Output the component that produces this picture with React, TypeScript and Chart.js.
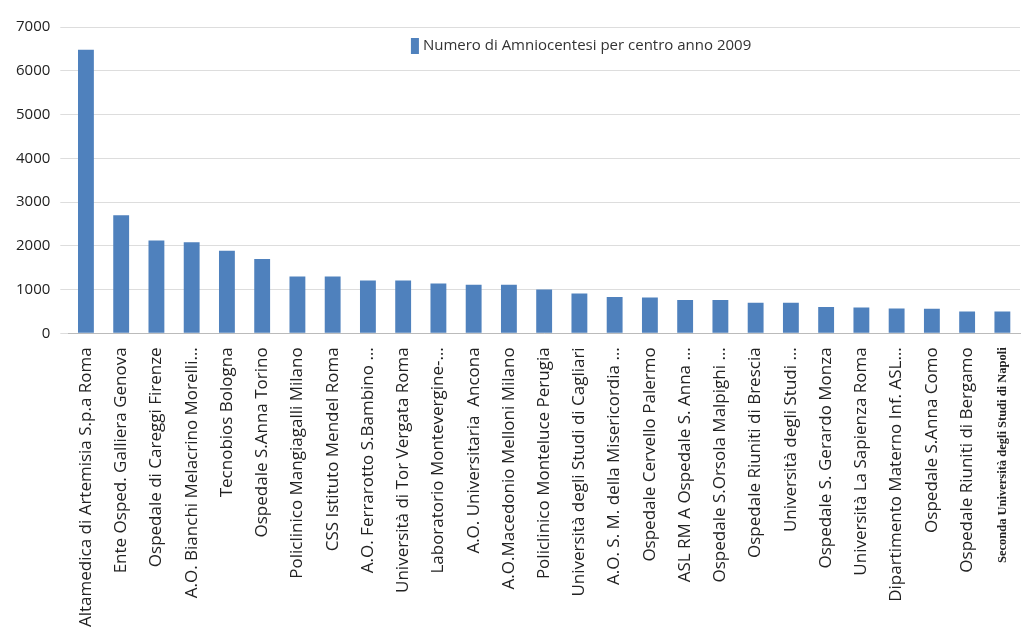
import React, { useEffect, useRef } from 'react';
import { Chart, registerables } from 'chart.js';
Chart.register(...registerables);

const centers = [
	'Altamedica di Artemisia S.p.a Roma',
	'Ente Osped. Galliera Genova',
	'Ospedale di Careggi Firenze',
	'A.O. Bianchi Melacrino Morelli…',
	'Tecnobios Bologna',
	'Ospedale S.Anna Torino',
	'Policlinico Mangiagalli Milano',
	'CSS Istituto Mendel Roma',
	'A.O. Ferrarotto S.Bambino …',
	'Università di Tor Vergata Roma',
	'Laboratorio Montevergine-…',
	'A.O. Universitaria  Ancona',
	'A.O.Macedonio Melloni Milano',
	'Policlinico Monteluce Perugia',
	'Università degli Studi di Cagliari',
	'A.O. S. M. della Misericordia …',
	'Ospedale Cervello Palermo',
	'ASL RM A Ospedale S. Anna …',
	'Ospedale S.Orsola Malpighi …',
	'Ospedale Riuniti di Brescia',
	'Università degli Studi …',
	'Ospedale S. Gerardo Monza',
	'Università La Sapienza Roma',
	'Dipartimento Materno Inf. ASL…',
	'Ospedale S.Anna Como',
	'Ospedale Riuniti di Bergamo',
	'Seconda Università degli Studi di Napoli',
];
const amniocentesi = [
	6480, 2700, 2120, 2080, 1890, 1700, 1300, 1300, 1210, 1210, 1140, 1110, 1110, 1000, 910, 830,
	820, 760, 760, 700, 700, 600, 590, 570, 560, 500, 500,
];
const seriesLabel = 'Numero di Amniocentesi per centro anno 2009';
const barColor = 'rgb(79, 129, 189)';

const insideLegend = {
	id: 'insideLegend',
	afterDraw(chart: Chart) {
		const { ctx, chartArea } = chart;
		const x = chartArea.left + (chartArea.right - chartArea.left) * 0.36;
		const y = chartArea.top + 19;
		ctx.save();
		ctx.fillStyle = barColor;
		ctx.fillRect(x, y - 8, 8, 16);
		ctx.fillStyle = '#333';
		ctx.font = '15px "Open Sans"';
		ctx.textBaseline = 'middle';
		ctx.fillText(seriesLabel, x + 12, y);
		ctx.restore();
	},
};

const App = () => {
	const ref = useRef<HTMLCanvasElement>(null);

	useEffect(() => {
		document.body.style.margin = '0';
		const chart = new Chart(ref.current!, {
			type: 'bar',
			data: {
				labels: centers,
				datasets: [
					{
						label: seriesLabel,
						data: amniocentesi,
						backgroundColor: barColor,
						categoryPercentage: 0.9,
						barPercentage: 0.5,
					},
				],
			},
			plugins: [insideLegend],
			options: {
				animation: false,
				responsive: false,
				layout: { padding: { top: 27, right: 4, left: 6, bottom: 8 } },
				plugins: {
					legend: { display: false },
					tooltip: { enabled: false },
				},
				scales: {
					x: {
						grid: { display: false },
						border: { color: '#bbb' },
						ticks: {
							minRotation: 90,
							maxRotation: 90,
							autoSkip: false,
							color: '#222',
							padding: 6,
							font: (ctx: any) =>
								ctx.index === centers.length - 1
									? { family: 'Liberation Serif', size: 12.5, weight: 'bold' }
									: { family: 'Open Sans', size: 17 },
						},
					},
					y: {
						min: 0,
						max: 7000,
						grid: { color: '#ddd' },
						border: { display: false },
						ticks: {
							stepSize: 1000,
							color: '#222',
							padding: 10,
							font: { family: 'Open Sans', size: 15 },
							callback: (v: any) => String(v),
						},
					},
				},
			},
		});
		return () => chart.destroy();
	}, []);

	return <canvas ref={ref} width={1024} height={641} style={{ display: 'block' }} />;
};

export default App;
